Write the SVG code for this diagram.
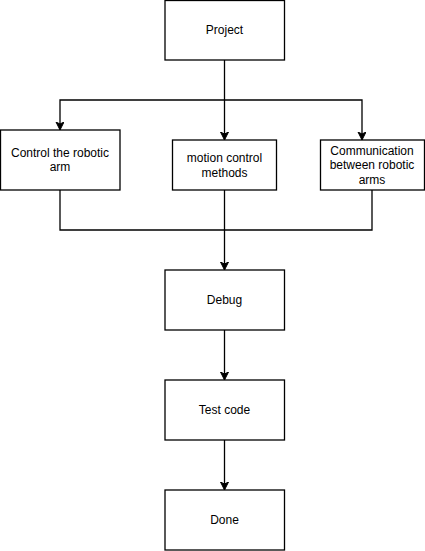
<svg xmlns="http://www.w3.org/2000/svg" width="425" height="551" viewBox="0 0 425 551">
<style>
.box{fill:#fff;stroke:#000;stroke-width:1.3}
.line{fill:none;stroke:#000;stroke-width:1.3}
text{font-family:"Liberation Sans",Arial,sans-serif;font-size:12px;fill:#000;text-anchor:middle}
</style>
<defs>
<marker id="arr" markerWidth="10" markerHeight="10" refX="8" refY="4" orient="auto" markerUnits="userSpaceOnUse">
<path d="M0,0 L8,4 L0,8 L2,4 Z" fill="#000" stroke="#000" stroke-width="1"/>
</marker>
</defs>
<rect width="425" height="551" fill="#fff"/>
<g id="connectors">
<path class="line" d="M224.5,60 V140" marker-end="url(#arr)"/>
<path class="line" d="M224.5,100 H60 V130" marker-end="url(#arr)"/>
<path class="line" d="M224.5,100 H362 V140" marker-end="url(#arr)"/>
<path class="line" d="M60,190 V230 H372 V190"/>
<path class="line" d="M224.5,190 V270" marker-end="url(#arr)"/>
<path class="line" d="M224.5,330 V380" marker-end="url(#arr)"/>
<path class="line" d="M224.5,440 V490" marker-end="url(#arr)"/>
</g>
<g id="project"><rect class="box" x="165" y="0.5" width="119.5" height="59.5"/><text x="224.5" y="34">Project</text></g>
<g id="control"><rect class="box" x="0.5" y="130" width="119.5" height="60"/><text x="60" y="157">Control the robotic</text><text x="60" y="171">arm</text></g>
<g id="motion"><rect class="box" x="172.5" y="140" width="104" height="50"/><text x="224.5" y="162">motion control</text><text x="224.5" y="177">methods</text></g>
<g id="communication"><rect class="box" x="320.5" y="140" width="104" height="50"/><text x="372" y="155">Communication</text><text x="372" y="169">between robotic</text><text x="372" y="184">arms</text></g>
<g id="debug"><rect class="box" x="165" y="270" width="119.5" height="60"/><text x="224.5" y="304">Debug</text></g>
<g id="testcode"><rect class="box" x="165" y="380" width="119.5" height="60"/><text x="224.5" y="414">Test code</text></g>
<g id="done"><rect class="box" x="165" y="490" width="119.5" height="60"/><text x="224.5" y="524">Done</text></g>
</svg>
